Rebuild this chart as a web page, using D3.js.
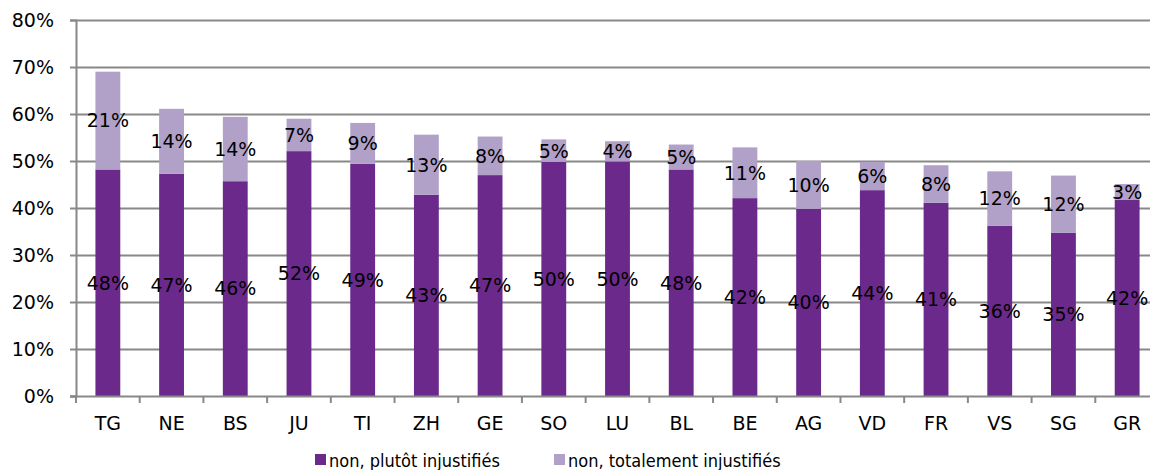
<!DOCTYPE html>
<html><head><meta charset="utf-8">
<script src="https://cdn.jsdelivr.net/npm/d3@7"></script>
<style>
html,body{margin:0;padding:0;background:#fff;}
svg{display:block;font-family:"DejaVu Sans",sans-serif;}
</style></head>
<body>
<svg id="chart" width="1150" height="470"></svg>
<script>
const categories = ["TG","NE","BS","JU","TI","ZH","GE","SO","LU","BL","BE","AG","VD","FR","VS","SG","GR"];
const plutot =   [48.2,47.3,45.7,52.1,49.4,42.8,47.0,49.8,49.9,48.2,42.1,39.8,43.8,41.1,36.2,34.7,41.7];
const totalement=[20.8,13.8,13.7,6.9,8.7,12.8,8.2,4.8,4.3,5.3,10.8,10.2,6.0,8.0,11.6,12.2,3.4];
const seriesNames = ["non, plutôt injustifiés","non, totalement injustifiés"];
const yTicks = [0,10,20,30,40,50,60,70,80];
const colors = ["#6B2A8B","#B1A0C8"];

(function(){
const svg = d3.select("#chart");
const mLeft = 76, mRight = 1159, mTop = 20, mBottom = 396;
const x = d3.scaleBand().domain(categories).range([mLeft, mRight]).paddingInner(0.61).paddingOuter(0.305);
const y = d3.scaleLinear().domain([0,80]).range([mBottom, mTop]);
const grid = "#888888";

// gridlines
svg.append("g").selectAll("line").data(yTicks.filter(d=>d>0)).join("line")
  .attr("x1", mLeft).attr("x2", 1150).attr("y1", d=>y(d)+0.5).attr("y2", d=>y(d)+0.5)
  .attr("stroke", grid).attr("stroke-width", 2);

// bars
const rows = categories.map((c,i)=>({c, a:plutot[i], b:totalement[i]}));
const g = svg.append("g");
g.selectAll("rect.a").data(rows).join("rect").attr("class","a")
  .attr("x", d=>x(d.c)).attr("width", x.bandwidth())
  .attr("y", d=>y(d.a)).attr("height", d=>y(0)-y(d.a)).attr("fill", colors[0]);
g.selectAll("rect.b").data(rows).join("rect").attr("class","b")
  .attr("x", d=>x(d.c)).attr("width", x.bandwidth())
  .attr("y", d=>y(d.a+d.b)).attr("height", d=>y(d.a)-y(d.a+d.b)).attr("fill", colors[1]);

// axes
const yAxis = d3.axisLeft(y).tickValues(yTicks).tickFormat(d=>d+"%").tickSize(6).tickPadding(16);
const ya = svg.append("g").attr("transform",`translate(${mLeft},0)`).call(yAxis);
ya.select(".domain").attr("stroke", grid).attr("stroke-width",2);
ya.selectAll(".tick line").attr("stroke", grid).attr("stroke-width",2);
ya.selectAll(".tick text").attr("font-size","19px").attr("fill","#000").attr("font-family","DejaVu Sans");

const xa = svg.append("g").attr("transform",`translate(0,${mBottom})`);
xa.append("line").attr("x1",mLeft-6).attr("x2",1150).attr("y1",0.5).attr("y2",0.5).attr("stroke",grid).attr("stroke-width",2);
const bounds = categories.map(c=>x(c)-x.step()*x.paddingInner()/2);
xa.selectAll("line.t").data(bounds).join("line").attr("class","t")
  .attr("x1",d=>d).attr("x2",d=>d).attr("y1",0).attr("y2",7).attr("stroke",grid).attr("stroke-width",2);
xa.selectAll("text").data(categories).join("text")
  .attr("x", d=>x(d)+x.bandwidth()/2).attr("y", 34).attr("text-anchor","middle")
  .attr("font-size","19px").text(d=>d);

// data labels
const lab = svg.append("g").attr("font-size","19px").attr("text-anchor","middle");
lab.selectAll("text.a").data(rows).join("text").attr("class","a")
  .attr("x", d=>x(d.c)+x.bandwidth()/2).attr("y", d=>(y(0)+y(d.a))/2).attr("dy","0.36em")
  .text(d=>Math.round(d.a)+"%");
lab.selectAll("text.b").data(rows).join("text").attr("class","b")
  .attr("x", d=>x(d.c)+x.bandwidth()/2).attr("y", d=>(y(d.a)+y(d.a+d.b))/2).attr("dy","0.36em")
  .text(d=>Math.round(d.b)+"%");

// legend
const legX = [315, 554];
const leg = svg.append("g");
seriesNames.forEach((n,i)=>{
  leg.append("rect").attr("x",legX[i]).attr("y",454).attr("width",11).attr("height",11).attr("fill",colors[i]);
  leg.append("text").attr("x",legX[i]+14).attr("y",466.5).attr("font-size","18px")
    .attr("font-family","'DejaVu Sans Condensed','DejaVu Sans',sans-serif").attr("font-stretch","condensed").text(n);
});
})();
</script>
</body></html>
